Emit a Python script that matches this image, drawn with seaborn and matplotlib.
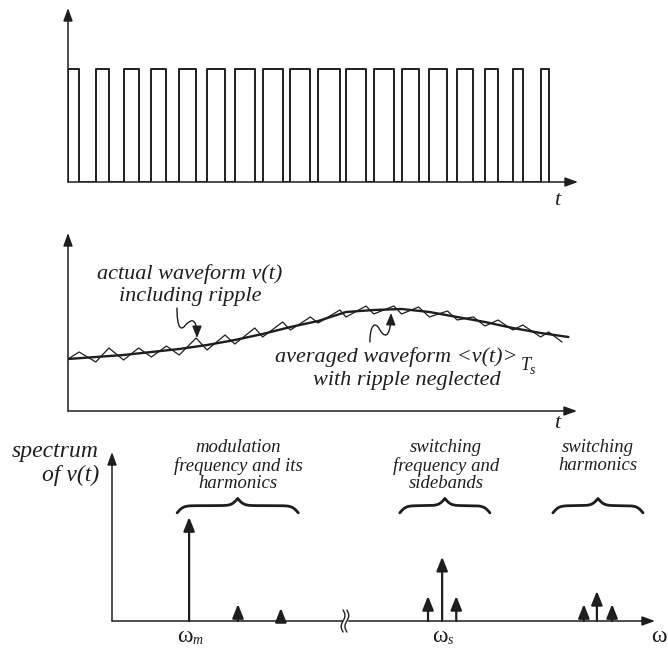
import numpy as np
import matplotlib
matplotlib.use("Agg")
import matplotlib.pyplot as plt
import seaborn as sns
from matplotlib.patches import FancyArrowPatch, Rectangle
from matplotlib.path import Path

# ---- data ----
# duty ratio of each switching period (top waveform)
duty = [0.40, 0.47, 0.54, 0.54, 0.61, 0.65, 0.72, 0.72, 0.72, 0.78,
        0.72, 0.72, 0.61, 0.65, 0.58, 0.47, 0.36, 0.29]

# averaged waveform <v(t)>, sampled at the start of each period
avg_t = list(range(19))
avg_v = [0.52, 0.54, 0.56, 0.59, 0.62, 0.66, 0.71, 0.77, 0.84, 0.90,
         0.99, 1.01, 1.02, 0.99, 0.94, 0.89, 0.83, 0.78, 0.74]

# actual waveform: value at the start of each period and at the end of each on-time
ripple_lo = [0.52, 0.49, 0.51, 0.54, 0.56, 0.61, 0.67, 0.74, 0.81, 0.88,
             0.94, 0.97, 0.97, 0.94, 0.91, 0.85, 0.81, 0.74]
ripple_hi = [0.59, 0.63, 0.63, 0.65, 0.73, 0.76, 0.83, 0.89, 0.94, 1.01,
             1.05, 1.05, 1.04, 1.00, 0.94, 0.91, 0.86, 0.79]
ripple_end_t = 17.77
ripple_end_v = 0.69

# spectrum lines
spec_x = [1.42, 2.32, 3.11, 5.82, 6.08, 6.34, 8.69, 8.93, 9.21]
spec_h = [0.615, 0.10, 0.077, 0.148, 0.38, 0.148, 0.10, 0.178, 0.10]

ink = "#1e1e1e"
W, H = 668, 648

sns.set_style("white")
plt.rcParams["font.family"] = ["Liberation Serif", "DejaVu Serif"]
plt.rcParams["mathtext.fontset"] = "stix"

fig = plt.figure(figsize=(W / 100, H / 100), dpi=100)


def box(x0, y_axis, x1, y_top):
    # pixel box -> figure fraction
    return [x0 / W, 1 - y_axis / H, (x1 - x0) / W, (y_axis - y_top) / H]


def ftext(x, y, s, size, ha="center", style="italic", **kw):
    fig.text(x / W, 1 - y / H, s, fontsize=size, ha=ha, va="center",
             style=style, color=ink, **kw)


def axis_arrows(ax):
    for xy in [(1.0, 0.0), (0.0, 1.0)]:
        ax.annotate("", xy=xy, xytext=(0, 0), xycoords="axes fraction",
                    arrowprops=dict(arrowstyle="-|>,head_length=0.55,head_width=0.2",
                                    lw=1.1, color=ink, shrinkA=0, shrinkB=0,
                                    mutation_scale=14))
    sns.despine(ax=ax, left=True, bottom=True)
    ax.set_xticks([])
    ax.set_yticks([])
    ax.set_xlabel("")
    ax.set_ylabel("")


# ---- top: switched waveform ----
ax1 = fig.add_axes(box(68, 182, 578, 8))
t_p, v_p = [], []
for k, d in enumerate(duty):
    t_p += [k, k, k + d, k + d]
    v_p += [0, 1, 1, 0]
sns.lineplot(x=t_p, y=v_p, sort=False, estimator=None, color=ink, lw=1.4, ax=ax1)
ax1.set_xlim(0, (578 - 68) / 27.8)
ax1.set_ylim(0, (182 - 8) / (182 - 69))
axis_arrows(ax1)
ftext(557, 201, "t", 16)

# ---- middle: actual and averaged waveforms ----
ax2 = fig.add_axes(box(68, 411, 577, 233))
r_t, r_v = [], []
for k, d in enumerate(duty):
    r_t += [k, k + d]
    r_v += [ripple_lo[k], ripple_hi[k]]
r_t.append(ripple_end_t)
r_v.append(ripple_end_v)
sns.lineplot(x=r_t, y=r_v, sort=False, estimator=None, color=ink, lw=0.9, ax=ax2)
sns.lineplot(x=avg_t, y=avg_v, sort=False, estimator=None, color=ink, lw=1.7, ax=ax2)
ax2.set_xlim(0, (577 - 68) / 27.8)
ax2.set_ylim(0, (411 - 233) / 100)
axis_arrows(ax2)

# squiggly pointers
C4, M = Path.CURVE4, Path.MOVETO
sq1 = Path([(3.92, 1.03), (3.92, 0.84), (4.05, 0.80), (4.20, 0.85),
            (4.38, 0.91), (4.64, 0.96), (4.64, 0.73)],
           [M, C4, C4, C4, C4, C4, C4])
sq2 = Path([(10.86, 0.69), (10.86, 0.86), (11.05, 0.90), (11.20, 0.82),
            (11.35, 0.74), (11.60, 0.70), (11.62, 0.98)],
           [M, C4, C4, C4, C4, C4, C4])
for p in (sq1, sq2):
    ax2.add_patch(FancyArrowPatch(path=p, arrowstyle="-|>,head_length=0.55,head_width=0.22",
                                  mutation_scale=13, lw=1.0, color=ink,
                                  shrinkA=0, shrinkB=0, transform=ax2.transData))

ftext(190, 274, "actual waveform v(t)", 16)
ftext(190, 297, "including ripple", 16)
ftext(275, 357, "averaged waveform <v(t)>", 16, ha="left")
ftext(521, 366, "T", 13, ha="left")
ftext(530, 371, "s", 10, ha="left")
ftext(407, 380, "with ripple neglected", 16)
ftext(557, 424, "t", 16)

# ---- bottom: spectrum ----
ax3 = fig.add_axes(box(112, 621, 655, 452))
ax3.set_xlim(0, 10)
ax3.set_ylim(0, 1)
axis_arrows(ax3)
for x, h in zip(spec_x, spec_h):
    ax3.annotate("", xy=(x, h), xytext=(x, 0),
                 arrowprops=dict(arrowstyle="-|>,head_length=0.6,head_width=0.24",
                                 lw=1.6, color=ink, shrinkA=0, shrinkB=0,
                                 mutation_scale=14))

# axis break
xb = 4.29
ax3.add_patch(Rectangle((xb - 0.03, -0.02), 0.06, 0.04, color="white",
                        zorder=5, clip_on=False))
yy = np.linspace(-0.065, 0.065, 40)
for dx in (-0.035, 0.035):
    ax3.plot(xb + dx + 0.035 * np.sin(yy / 0.065 * np.pi), yy, color=ink, lw=1.0,
             clip_on=False, zorder=6)


def brace(ax, x0, x1, y0, h, beta=18.0):
    xm = (x0 + x1) / 2
    xl = np.linspace(x0, xm, 120)
    xr = np.linspace(xm, x1, 120)
    yl = 1 / (1 + np.exp(-beta * (xl - x0))) + 1 / (1 + np.exp(-beta * (xl - xm)))
    yr = 1 / (1 + np.exp(-beta * (x1 - xr))) + 1 / (1 + np.exp(-beta * (xm - xr)))
    xs = np.concatenate([xl, xr])
    ys = y0 + h * (np.concatenate([yl, yr]) - 0.5)
    ax.plot(xs, ys, color=ink, lw=2.0, solid_capstyle="round")


brace(ax3, 1.20, 3.43, 0.64, 0.085)
brace(ax3, 5.30, 6.96, 0.64, 0.085)
brace(ax3, 8.12, 9.78, 0.64, 0.085)

ftext(99, 451, "spectrum", 17, ha="right")
ftext(99, 475, "of v(t)", 17, ha="right")
ftext(238, 447, "modulation", 13.5)
ftext(238, 466, "frequency and its", 13.5)
ftext(238, 484, "harmonics", 13.5)
ftext(446, 447, "switching", 13.5)
ftext(446, 466, "frequency and", 13.5)
ftext(446, 484, "sidebands", 13.5)
ftext(598, 447, "switching", 13.5)
ftext(598, 466, "harmonics", 13.5)

ftext(185, 636, "\u03c9", 17, style="normal")
ftext(193, 641, "m", 10, ha="left")
ftext(440, 636, "\u03c9", 17, style="normal")
ftext(448, 641, "s", 10, ha="left")
ftext(659, 636, "\u03c9", 17, style="normal")

fig.savefig("out.png", dpi=100, facecolor="white")
